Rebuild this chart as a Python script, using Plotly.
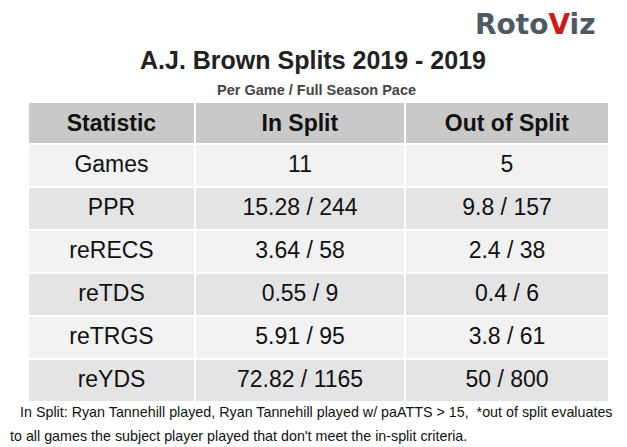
import plotly.graph_objects as go

columns = ["Statistic", "In Split", "Out of Split"]
stats = ["Games", "PPR", "reRECS", "reTDS", "reTRGS", "reYDS"]
in_split = ["11", "15.28 / 244", "3.64 / 58", "0.55 / 9", "5.91 / 95", "72.82 / 1165"]
out_split = ["5", "9.8 / 157", "2.4 / 38", "0.4 / 6", "3.8 / 61", "50 / 800"]

title = "A.J. Brown Splits 2019 - 2019"
subtitle = "Per Game / Full Season Pace"
footer1 = "In Split: Ryan Tannehill played, Ryan Tannehill played w/ paATTS > 15,  *out of split evaluates"
footer2 = "to all games the subject player played that don't meet the in-split criteria."

# page has an 8px body margin; the figure fills the rest of the 627x447 window
OFF = 8
W, H = 627 - OFF, 447 - OFF
light, dark = "#f2f2f2", "#e4e4e4"
row_fill = [light if i % 2 == 0 else dark for i in range(len(stats))]
font_fam = "Liberation Sans, Arial, sans-serif"
col_w = [167, 210, 204]

TABLE_LEFT, TABLE_RIGHT, TABLE_TOP = 28, 609, 102
dom_x = [(TABLE_LEFT - OFF) / W, (TABLE_RIGHT - OFF) / W]

# grid, fills and header text
fig = go.Figure(go.Table(
    columnwidth=col_w,
    domain=dict(x=dom_x, y=[0, (H - (TABLE_TOP - OFF)) / H]),
    header=dict(
        values=[f"<b>{c}</b>" for c in columns],
        fill_color="#c9c9c9",
        line=dict(color="white", width=2),
        align="center",
        height=40,
        font=dict(family=font_fam, size=23, color="#111111"),
    ),
    cells=dict(
        values=[[""] * len(stats)] * 3,
        fill_color=[row_fill] * 3,
        line=dict(color="white", width=2),
        align="center",
        height=43,
        font=dict(family=font_fam, size=23, color="#111111"),
    ),
))

# body text, laid over the grid and nudged down to sit in the middle of each row
NUDGE = 5
fig.add_trace(go.Table(
    columnwidth=col_w,
    domain=dict(x=dom_x, y=[0, (H - (TABLE_TOP - OFF) - NUDGE) / H]),
    header=dict(
        values=["", "", ""],
        fill_color="rgba(0,0,0,0)",
        line=dict(color="rgba(0,0,0,0)", width=0),
        height=40,
    ),
    cells=dict(
        values=[stats, in_split, out_split],
        fill_color="rgba(0,0,0,0)",
        line=dict(color="rgba(0,0,0,0)", width=0),
        align="center",
        height=43,
        font=dict(family=font_fam, size=23, color="#111111"),
    ),
))


def note(x, y, text, size, color="#111111", xanchor="center", family=font_fam):
    fig.add_annotation(x=max(x - OFF, 0) / W, y=1 - (y - OFF) / H, xref="paper", yref="paper",
                       text=text, xanchor=xanchor, yanchor="middle", showarrow=False,
                       font=dict(family=family, size=size, color=color))


note(313, 60, f"<b>{title}</b>", 25, "#222222")
note(316, 90, f"<b>{subtitle}</b>", 14.5, "#444444")
note(18, 412, footer1, 14.3, xanchor="left")
note(6, 436, footer2, 14.3, xanchor="left")
note(535, 25,
     "<b><span style='color:#4e5a63'>Roto</span><span style='color:#cc1a1a'>V</span><span style='color:#4e5a63'>iz</span></b>",
     28, family="DejaVu Sans, sans-serif")

fig.update_layout(width=W, height=H, margin=dict(l=0, r=0, t=0, b=0),
                  paper_bgcolor="white", plot_bgcolor="white")
fig.write_html("out.html")
